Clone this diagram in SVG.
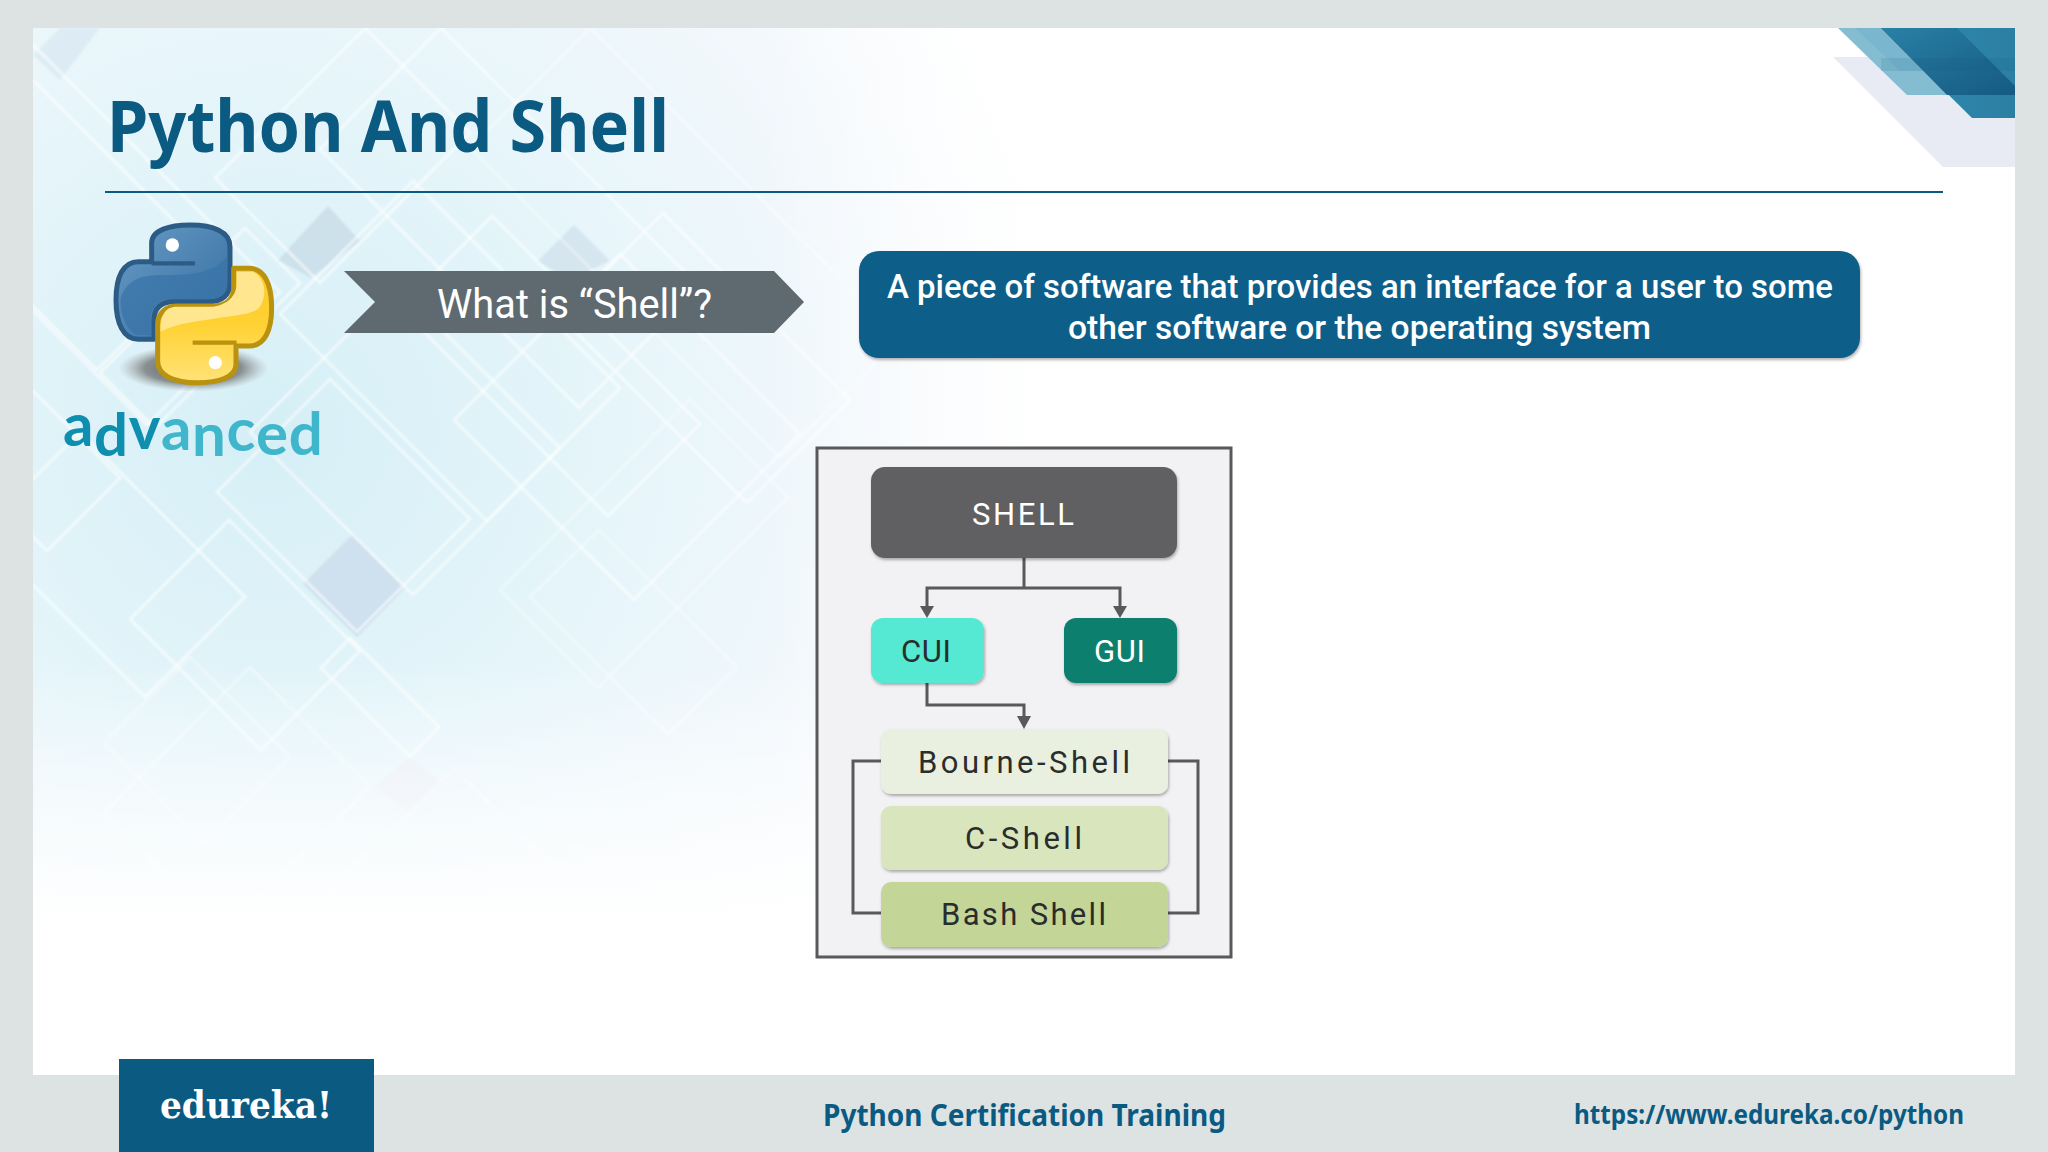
<svg xmlns="http://www.w3.org/2000/svg" width="2048" height="1152" viewBox="0 0 2048 1152">
<style>
.t{font-family:"Roboto","Liberation Sans",sans-serif}
.h{font-family:"Noto Sans","Liberation Sans",sans-serif;font-weight:700}
.d{fill:none;stroke:#fff;stroke-width:2.6;stroke-opacity:.65}
.f{fill:none;stroke:#fff;stroke-width:2.4;stroke-opacity:.4}
.c{fill:none;stroke:#595959;stroke-width:3}
.n{font-size:31px;fill:#2a2d2b;font-weight:400}
.b{font-size:34px;fill:#fff;font-weight:500}
</style>
<defs>
<radialGradient id="bg" gradientUnits="userSpaceOnUse" cx="270" cy="430" r="830">
<stop offset="0" stop-color="#d5eff6"/><stop offset=".4" stop-color="#e5f5fa"/><stop offset=".75" stop-color="#f3f8fc"/><stop offset="1" stop-color="#fff"/>
</radialGradient>
<linearGradient id="fade" gradientUnits="userSpaceOnUse" x1="0" y1="660" x2="0" y2="930">
<stop offset="0" stop-color="#fff" stop-opacity="0"/><stop offset="1" stop-color="#fff"/>
</linearGradient>
<linearGradient id="fadeR" gradientUnits="userSpaceOnUse" x1="760" y1="0" x2="1100" y2="0">
<stop offset="0" stop-color="#fff" stop-opacity="0"/><stop offset="1" stop-color="#fff"/>
</linearGradient>
<linearGradient id="blueG" x1="0" y1="0" x2="1" y2="1">
<stop offset="0" stop-color="#6a9cc4"/><stop offset="1" stop-color="#2f6ba1"/>
</linearGradient>
<linearGradient id="yelG" x1="0" y1="0" x2="0" y2="1">
<stop offset="0" stop-color="#ffe37a"/><stop offset=".5" stop-color="#ffd234"/><stop offset="1" stop-color="#fdc824"/>
</linearGradient>
<radialGradient id="shad"><stop offset="0" stop-color="#444" stop-opacity=".9"/><stop offset=".65" stop-color="#666" stop-opacity=".7"/><stop offset="1" stop-color="#999" stop-opacity="0"/></radialGradient>
<linearGradient id="cornerG" x1="0" y1="0" x2="1" y2="0"><stop offset="0" stop-color="#2d8bb1"/><stop offset="1" stop-color="#2c7fa3"/></linearGradient>
<linearGradient id="cornerD" x1="0" y1="0" x2="1" y2="1"><stop offset="0" stop-color="#2a80a6"/><stop offset="1" stop-color="#155a82"/></linearGradient>
<filter id="sh" x="-10%" y="-10%" width="120%" height="125%"><feDropShadow dx="1" dy="2" stdDeviation="1.5" flood-color="#000" flood-opacity=".3"/></filter>
<filter id="soft" x="-5%" y="-5%" width="110%" height="110%"><feGaussianBlur stdDeviation=".9"/></filter>
<clipPath id="panel"><rect x="33" y="28" width="1982" height="1047"/></clipPath>
<path id="logoPart" d="M365 185V130C365 90 420 75 480 75C550 75 600 95 600 140V250C600 285 575 305 540 305H430C395 305 372 325 372 360V418H325C280 418 258 370 258 300C258 230 280 185 325 185Z"/>
</defs>

<rect width="2048" height="1152" fill="#dde3e2"/>
<g id="background" clip-path="url(#panel)">
<rect x="33" y="28" width="1982" height="1047" fill="#fff"/>
<rect x="33" y="28" width="1100" height="980" fill="url(#bg)"/>
<g filter="url(#soft)">
<polygon points="33,55 60,28 100,28 60,80" fill="#c6dbe8" fill-opacity=".35"/>
<polygon points="328,206 360,241 311,278 278,260" fill="#c3d7e4" fill-opacity=".65"/>
<polygon points="574,225 610,261 569,280 538,261" fill="#c9d9e6" fill-opacity=".55"/>
<polygon points="352,535 405,588 357,637 303,584" fill="#cfe0ee"/>
<polygon points="410,757 441,783 410,813 375,787" fill="#e8eef5"/>
<polygon class="d" points="365,28 470,133 320,283 215,178"/>
<polygon class="d" points="413,181 620,388 487,521 280,314"/>
<polygon class="d" points="492,216 700,424 608,516 400,308"/>
<polygon class="d" points="663,213 850,400 747,503 560,316"/>
<polygon class="d" points="245,228 300,283 155,428 100,373"/>
<polygon class="d" points="620,254 800,434 634,600 454,420"/>
<polygon class="d" points="80,432 245,597 145,697 -20,532"/>
<polygon class="d" points="229,520 360,651 261,750 130,619"/>
<polygon class="d" points="330,379 470,519 357,632 217,492"/>
<polygon class="d" points="397,285 560,448 413,595 250,432"/>
<polygon class="d" points="350,638 439,727 410,757 321,668"/>
<polygon class="f" points="599,530 737,667 668,734 530,597"/>
<polygon class="f" points="690,399 788,497 598,688 500,590"/>
<polygon class="f" points="250,667 370,787 224,933 104,813"/>
<polygon class="f" points="190,657 290,757 204,843 104,743"/>
<polygon class="f" points="454,768 560,874 436,998 330,892"/>
<polygon class="d" points="33,45 280,292 147,425 -100,178"/>
<polygon class="d" points="33,80 210,257 97,370 -80,193"/>
<polygon class="d" points="33,391 120,478 47,551 -40,464"/>
<polygon class="d" points="441,28 700,287 579,408 320,149"/>
<polygon class="f" points="590,28 900,338 780,458 470,148"/>
</g>
<rect x="33" y="660" width="1100" height="350" fill="url(#fade)"/>
<rect x="760" y="28" width="380" height="980" fill="url(#fadeR)"/>
<polygon points="1833,57 1943,167 2015,167 2015,57" fill="#e8ebf3"/>
<polygon points="1838,28 1907,95 2016,95 2016,28" fill="#84bdd2"/>
<polygon points="1855,28 1900,71 1960,71 1960,28" fill="#6fb2ca" fill-opacity=".5"/>
<polygon points="1881,28 1972,118 2016,118 2016,28" fill="url(#cornerG)"/>
<polygon points="1881,28 1947,95 2016,95 2016,87 1957,28" fill="url(#cornerD)"/>
<rect x="1881" y="58" width="135" height="13" fill="#0f5578" fill-opacity=".12"/>
</g>

<g id="title">
<text class="h" x="107" y="152" font-size="71" fill="#0b5a82" textLength="562" lengthAdjust="spacingAndGlyphs">Python And Shell</text>
<rect x="105" y="191" width="1838" height="2" fill="#0b5a82"/>
</g>

<g id="python-logo">
<g transform="translate(30 200) scale(.3333)">
<ellipse cx="490" cy="505" rx="225" ry="70" fill="url(#shad)"/>
<g>
<use href="#logoPart" fill="url(#blueG)" stroke="#2c5b86" stroke-width="15" stroke-linejoin="round"/>
<path d="M272 295C290 240 330 225 400 225C480 225 550 220 590 170V250C590 280 570 297 535 297H425C390 297 362 320 362 360V405H330C295 405 270 350 272 295Z" fill="#3a74a8" fill-opacity=".75"/>
<path d="M365 190H495" stroke="#2c5b86" stroke-width="13" fill="none"/>
<circle cx="427" cy="135" r="20" fill="#fff"/>
</g>
<g>
<use href="#logoPart" transform="rotate(180 491.5 311.5)" fill="url(#yelG)" stroke="#b9920f" stroke-width="15" stroke-linejoin="round"/>
<path d="M392 395C440 370 500 365 560 355C620 345 670 345 690 320C710 290 710 240 670 215H620V250C620 290 590 315 550 320H440C405 320 392 345 392 395Z" fill="#ffe68f"/>
<path d="M488 428H620" stroke="#b9920f" stroke-width="13" fill="none"/>
<circle cx="556" cy="488" r="20" fill="#fff"/>
</g>
</g>
<text x="63" font-family="Lato,'Liberation Sans',sans-serif" font-size="60" font-weight="700" letter-spacing=".6"><tspan fill="#0f8fb0" y="446">a</tspan><tspan fill="#0f8fb0" y="456">d</tspan><tspan fill="#0f8fb0" y="449">v</tspan><tspan fill="#3fb6cc" y="450">a</tspan><tspan fill="#3fb6cc" y="456">n</tspan><tspan fill="#3fb6cc" y="451">c</tspan><tspan fill="#3fb6cc" y="455">e</tspan><tspan fill="#3fb6cc" y="455">d</tspan></text>
</g>

<g id="question">
<polygon points="344,271 774,271 804,302 774,333 344,333 375,302" fill="#5f6a70"/>
<text class="t" x="437" y="318" font-size="41" fill="#fff" textLength="275" lengthAdjust="spacingAndGlyphs">What is “Shell”?</text>
</g>

<g id="definition">
<rect x="859" y="251" width="1001" height="107" rx="20" fill="#0b5f8a" filter="url(#sh)"/>
<text class="t b" x="887" y="298" textLength="946" lengthAdjust="spacingAndGlyphs">A piece of software that provides an interface for a user to some</text>
<text class="t b" x="1068" y="339" textLength="583" lengthAdjust="spacingAndGlyphs">other software or the operating system</text>
</g>

<g id="frame"><rect x="817" y="448" width="414" height="509" fill="#f2f2f5" stroke="#595959" stroke-width="3"/></g>

<g id="connectors">
<path class="c" d="M1024 558V588"/>
<path class="c" d="M1120 607V588H927V607"/>
<polygon points="920,606 934,606 927,618" fill="#595959"/>
<polygon points="1113,606 1127,606 1120,618" fill="#595959"/>
<path class="c" d="M927 683V705H1024V717"/>
<polygon points="1017,716 1031,716 1024,729" fill="#595959"/>
<path class="c" d="M881 761H853V913H881"/>
<path class="c" d="M1168 761H1198V913H1168"/>
</g>

<g id="node-shell"><rect x="871" y="467" width="306" height="91" rx="14" fill="#605e62" filter="url(#sh)"/><text class="t n" x="972" y="525" style="fill:#fff" textLength="102">SHELL</text></g>
<g id="node-cui"><rect x="871" y="618" width="113" height="65" rx="12" fill="#55e8d2" filter="url(#sh)"/><text class="t n" x="901" y="662" textLength="50">CUI</text></g>
<g id="node-gui"><rect x="1064" y="618" width="113" height="65" rx="12" fill="#0f7f6e" filter="url(#sh)"/><text class="t n" x="1094" y="662" style="fill:#fff" textLength="51">GUI</text></g>
<g id="node-bourne"><rect x="881" y="729" width="287" height="65" rx="10" fill="#eaf0df" filter="url(#sh)"/><text class="t n" x="918" y="773" textLength="212">Bourne-Shell</text></g>
<g id="node-c"><rect x="881" y="806" width="287" height="64" rx="10" fill="#d9e5bd" filter="url(#sh)"/><text class="t n" x="965" y="849" textLength="117">C-Shell</text></g>
<g id="node-bash"><rect x="881" y="882" width="287" height="65" rx="10" fill="#c3d698" filter="url(#sh)"/><text class="t n" x="941" y="925" textLength="165">Bash Shell</text></g>

<g id="footer">
<rect x="119" y="1059" width="255" height="93" fill="#0b5a82"/>
<text x="160" y="1118" font-family="'DejaVu Serif',serif" font-weight="700" font-size="38" fill="#fff" textLength="172" lengthAdjust="spacingAndGlyphs">edureka!</text>
<text class="h" x="823" y="1126" font-size="30" fill="#0b5a82" textLength="403" lengthAdjust="spacingAndGlyphs">Python Certification Training</text>
<text class="h" x="1574" y="1124" font-size="27" fill="#0b5a82" textLength="390" lengthAdjust="spacingAndGlyphs">https://www.edureka.co/python</text>
</g>
</svg>
